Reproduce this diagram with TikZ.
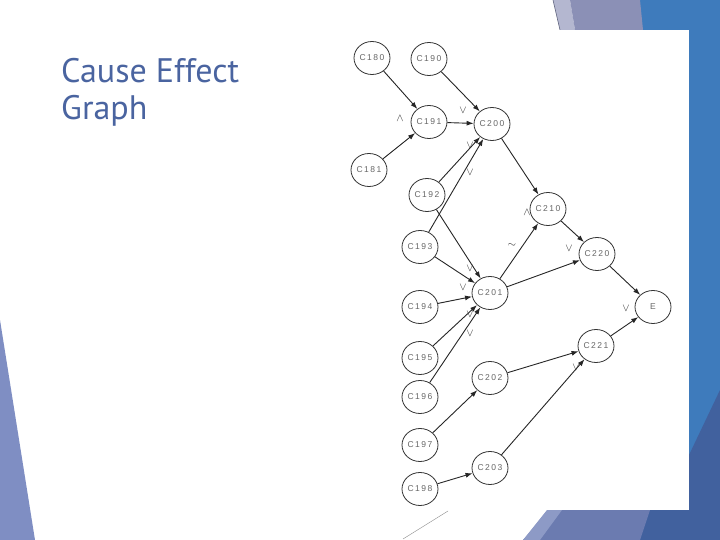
\documentclass[tikz,border=0pt]{standalone}
\usepackage{fontspec}
\setmainfont{Liberation Sans}
\newfontfamily\titlefont{PT Sans}
\newfontfamily\nodefont[LetterSpace=18]{Liberation Sans}
\usetikzlibrary{shapes.geometric,arrows.meta}
\definecolor{bgblue}{HTML}{3E7BBC}
\definecolor{dkblue}{HTML}{41619E}
\definecolor{lav}{HTML}{8B90B6}
\definecolor{lavlt}{HTML}{B4B7D0}
\definecolor{lavb}{HTML}{6B7BB0}
\definecolor{lavbl}{HTML}{8D9AC6}
\definecolor{lavleft}{HTML}{7F8EC3}
\definecolor{titleblue}{HTML}{4A64A0}
\begin{document}
\begin{tikzpicture}[x=1pt,y=-1pt,
  cnode/.style={ellipse, draw=black!80, line width=0.8pt, minimum width=36pt, minimum height=33pt, inner sep=0pt, font=\nodefont\fontsize{8.5}{8.5}\selectfont, text=black!60},
  conn/.style={-{Latex[length=7pt,width=5pt]}, line width=0.9pt, draw=black!85},
  lbl/.style={font=\fontsize{11}{11}\selectfont, text=black!80, inner sep=0pt},
  ttl/.style={anchor=base west, font=\titlefont\fontsize{34}{38}\selectfont, text=titleblue, inner sep=0pt}]
\useasboundingbox (0,0) rectangle (720,540);
\fill[white] (0,0) rectangle (720,540);
% background decoration
\fill[bgblue] (640,0) -- (720,0) -- (720,540) -- (640,540) -- cycle;
\fill[dkblue] (720,390) -- (720,540) -- (640,540) -- (648,510) -- (689,455) -- cycle;
\fill[lavb] (550,510) -- (650,510) -- (640,540) -- (523,540) -- cycle;
\fill[lavbl] (547,510) -- (562,510) -- (540,540) -- (523,540) -- cycle;
\fill[lavlt] (553,0) -- (570,0) -- (575,30) -- (560,30) -- cycle;
\fill[lav] (570,0) -- (640,0) -- (643,30) -- (575,30) -- cycle;
\draw[color=lav!70!black, line width=0.6pt] (553,0) -- (560,30);
\fill[lavleft] (0,320) -- (35,540) -- (0,540) -- cycle;
\fill[white] (340,30) rectangle (689,510);
\draw[black!45, line width=0.4pt] (403,539) -- (448,511);
% title
\node[ttl] (t1) at (61,83) {Cause Effect};
\node[ttl] (t2) at (61,120) {Graph};
% nodes
\node[cnode] (c180) at (372,58) {C180};
\node[cnode] (c190) at (429,59) {C190};
\node[cnode] (c191) at (429,122) {C191};
\node[cnode] (c200) at (492,124) {C200};
\node[cnode] (c181) at (369,170) {C181};
\node[cnode] (c192) at (427,195) {C192};
\node[cnode] (c210) at (548,209) {C210};
\node[cnode] (c193) at (420,247) {C193};
\node[cnode] (c220) at (597,254) {C220};
\node[cnode] (c201) at (490,293) {C201};
\node[cnode] (c194) at (420,307) {C194};
\node[cnode] (e) at (653,307) {E};
\node[cnode] (c221) at (596,346) {C221};
\node[cnode] (c195) at (420,358) {C195};
\node[cnode] (c202) at (490,378) {C202};
\node[cnode] (c196) at (420,397) {C196};
\node[cnode] (c197) at (420,445) {C197};
\node[cnode] (c203) at (490,468) {C203};
\node[cnode] (c198) at (420,489) {C198};
% connectors
\draw[conn] (c180) -- (c191);
\draw[conn] (c181) -- (c191);
\draw[conn] (c190) -- (c200);
\draw[conn] (c191) -- (c200);
\draw[conn] (c192) -- (c200);
\draw[conn] (c193) -- (c200);
\draw[conn] (c200) -- (c210);
\draw[conn] (c192) -- (c201);
\draw[conn] (c193) -- (c201);
\draw[conn] (c194) -- (c201);
\draw[conn] (c195) -- (c201);
\draw[conn] (c196) -- (c201);
\draw[conn] (c201) -- (c210);
\draw[conn] (c201) -- (c220);
\draw[conn] (c210) -- (c220);
\draw[conn] (c220) -- (e);
\draw[conn] (c221) -- (e);
\draw[conn] (c197) -- (c202);
\draw[conn] (c202) -- (c221);
\draw[conn] (c198) -- (c203);
\draw[conn] (c203) -- (c221);
% labels
\node[lbl] (l1) at (400,118) {$\wedge$};
\node[lbl] (l2) at (463,110) {$\vee$};
\node[lbl] (l3) at (470,145) {$\vee$};
\node[lbl] (l4) at (470,172) {$\vee$};
\node[lbl] (l5) at (527,212) {$\wedge$};
\node[lbl] (l6) at (512,245) {$\sim$};
\node[lbl] (l7) at (569,248) {$\vee$};
\node[lbl] (l8) at (470,268) {$\vee$};
\node[lbl] (l9) at (463,287) {$\vee$};
\node[lbl] (l10) at (470,314) {$\vee$};
\node[lbl] (l11) at (470,333) {$\vee$};
\node[lbl] (l12) at (626,308) {$\vee$};
\node[lbl] (l13) at (576,367) {$\vee$};
\end{tikzpicture}
\end{document}
